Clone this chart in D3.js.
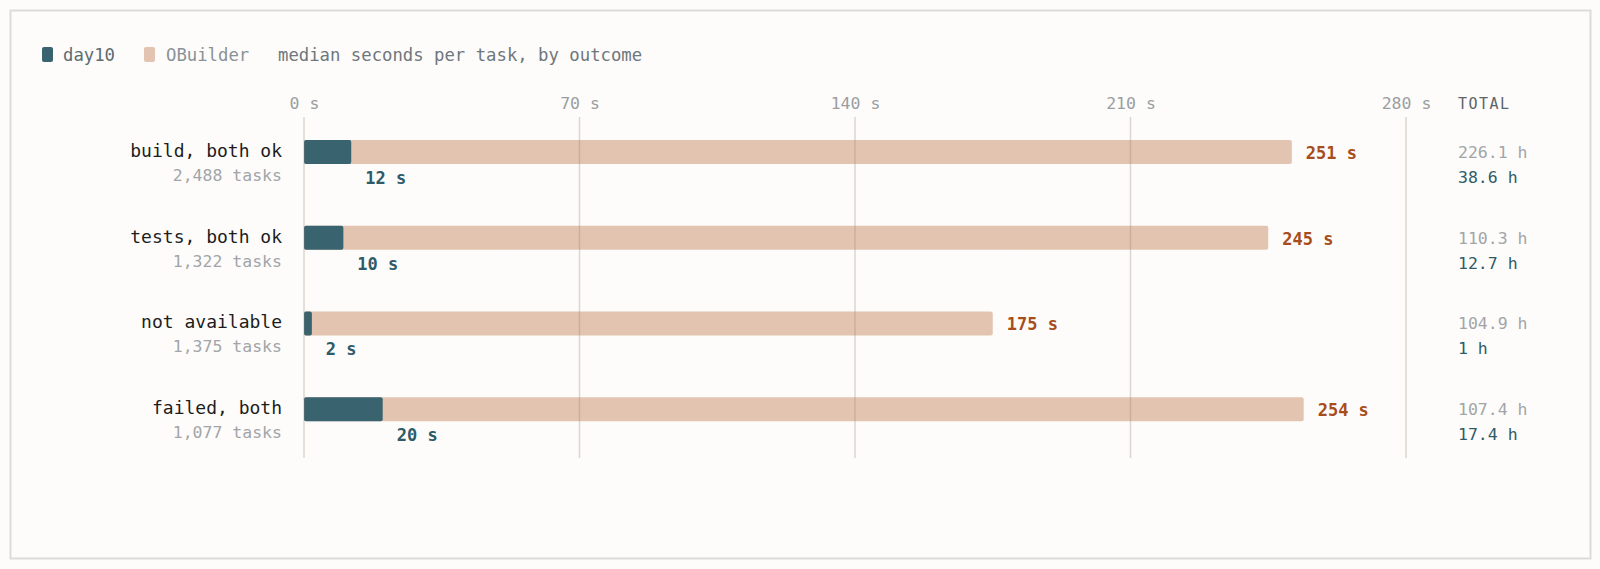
<!DOCTYPE html>
<html>
<head>
<meta charset="utf-8">
<script src="https://cdn.jsdelivr.net/npm/d3@7"></script>
<style>
  html, body { margin: 0; padding: 0; background: #fdfcfa; }
  svg { display: block; font-family: "DejaVu Sans Mono", "Liberation Mono", monospace; }
</style>
</head>
<body>
<script>
// outcomes, top to bottom
var categories = ["build, both ok", "tests, both ok", "not available", "failed, both"];
var taskCounts = ["2,488 tasks", "1,322 tasks", "1,375 tasks", "1,077 tasks"];
// median seconds per task
var day10Secs = [12, 10, 2, 20];
var obuilderSecs = [251, 245, 175, 254];
// total hours
var obuilderTotals = ["226.1 h", "110.3 h", "104.9 h", "107.4 h"];
var day10Totals = ["38.6 h", "12.7 h", "1 h", "17.4 h"];
var tickValues = [0, 70, 140, 210, 280];

var W = 1600, H = 569;
var teal = "#3a6370", peach = "#e2c4b0";

var svg = d3.select("body").append("svg")
    .attr("width", W)
    .attr("height", H);

// frame
svg.append("rect")
    .attr("x", 10.5).attr("y", 10.5)
    .attr("width", 1580).attr("height", 548)
    .attr("fill", "#fdfcfa")
    .attr("stroke", "#dcdbd8")
    .attr("stroke-width", 2);

// legend
var legend = svg.append("g").style("font-size", "17.3px");
legend.append("rect").attr("x", 42).attr("y", 47).attr("width", 11).attr("height", 15).attr("rx", 2).attr("fill", teal);
legend.append("text").attr("x", 63).attr("y", 61).attr("fill", "#5f6b72").text("day10");
legend.append("rect").attr("x", 144).attr("y", 47).attr("width", 11).attr("height", 15).attr("rx", 2).attr("fill", peach);
legend.append("text").attr("x", 166).attr("y", 61).attr("fill", "#8a9298").text("OBuilder");
legend.append("text").attr("x", 278).attr("y", 61).attr("fill", "#6f777d").text("median seconds per task, by outcome");

var x = d3.scaleLinear().domain([0, 280]).range([304, 1406]);
var y = d3.scaleBand().domain(categories).range([109, 452]).padding(0);
var barH = 24;

// tick labels
var xAxis = d3.axisTop(x).tickValues(tickValues).tickFormat(function(d){ return d + " s"; }).tickSize(0).tickPadding(0);
var axisG = svg.append("g").attr("transform", "translate(0,109)").call(xAxis);
axisG.attr("font-family", null).attr("font-size", null);
axisG.select(".domain").remove();
axisG.selectAll("text").attr("fill", "#9a9ea2").style("font-size", "16.5px");

svg.append("text").attr("x", 1458).attr("y", 109)
    .attr("fill", "#5c6469").style("font-size", "15px").style("letter-spacing", "1.5px")
    .text("TOTAL");

var rows = svg.append("g").selectAll("g")
    .data(categories)
    .enter()
    .append("g")
    .attr("transform", function(d){ return "translate(0," + (y(d) + y.bandwidth() / 2) + ")"; });

// row labels
rows.append("text")
    .attr("x", 282).attr("y", 5)
    .attr("text-anchor", "end")
    .attr("fill", "#1d1d1d").style("font-size", "18px")
    .text(function(d){ return d; });
rows.append("text")
    .attr("x", 282).attr("y", 29)
    .attr("text-anchor", "end")
    .attr("fill", "#a2a5a8").style("font-size", "16.5px")
    .text(function(d, i){ return taskCounts[i]; });

// bars
rows.append("rect")
    .attr("x", x(0))
    .attr("y", -barH / 2)
    .attr("width", function(d, i){ return x(obuilderSecs[i]) - x(0); })
    .attr("height", barH)
    .attr("rx", 2)
    .attr("fill", peach);
rows.append("rect")
    .attr("x", x(0))
    .attr("y", -barH / 2)
    .attr("width", function(d, i){ return x(day10Secs[i]) - x(0); })
    .attr("height", barH)
    .attr("rx", 2)
    .attr("fill", teal);

// grid, drawn over the bars
svg.append("g").selectAll("line")
    .data(tickValues)
    .enter()
    .append("line")
    .attr("x1", function(d){ return x(d); })
    .attr("x2", function(d){ return x(d); })
    .attr("y1", 117)
    .attr("y2", 458)
    .attr("stroke", "rgba(150,135,115,0.32)")
    .attr("stroke-width", 1.5);

// value labels
rows.append("text")
    .attr("x", function(d, i){ return x(obuilderSecs[i]) + 14; })
    .attr("y", 7)
    .attr("fill", "#a64d1b").style("font-size", "17px").style("font-weight", "bold")
    .text(function(d, i){ return obuilderSecs[i] + " s"; });
rows.append("text")
    .attr("x", function(d, i){ return x(day10Secs[i]) + 14; })
    .attr("y", 32)
    .attr("fill", "#2f5b68").style("font-size", "17px").style("font-weight", "bold")
    .text(function(d, i){ return day10Secs[i] + " s"; });

// totals
rows.append("text")
    .attr("x", 1458).attr("y", 6)
    .attr("fill", "#a2a5a8").style("font-size", "16.5px")
    .text(function(d, i){ return obuilderTotals[i]; });
rows.append("text")
    .attr("x", 1458).attr("y", 31)
    .attr("fill", "#2f5b68").style("font-size", "16.5px")
    .text(function(d, i){ return day10Totals[i]; });
</script>
</body>
</html>
